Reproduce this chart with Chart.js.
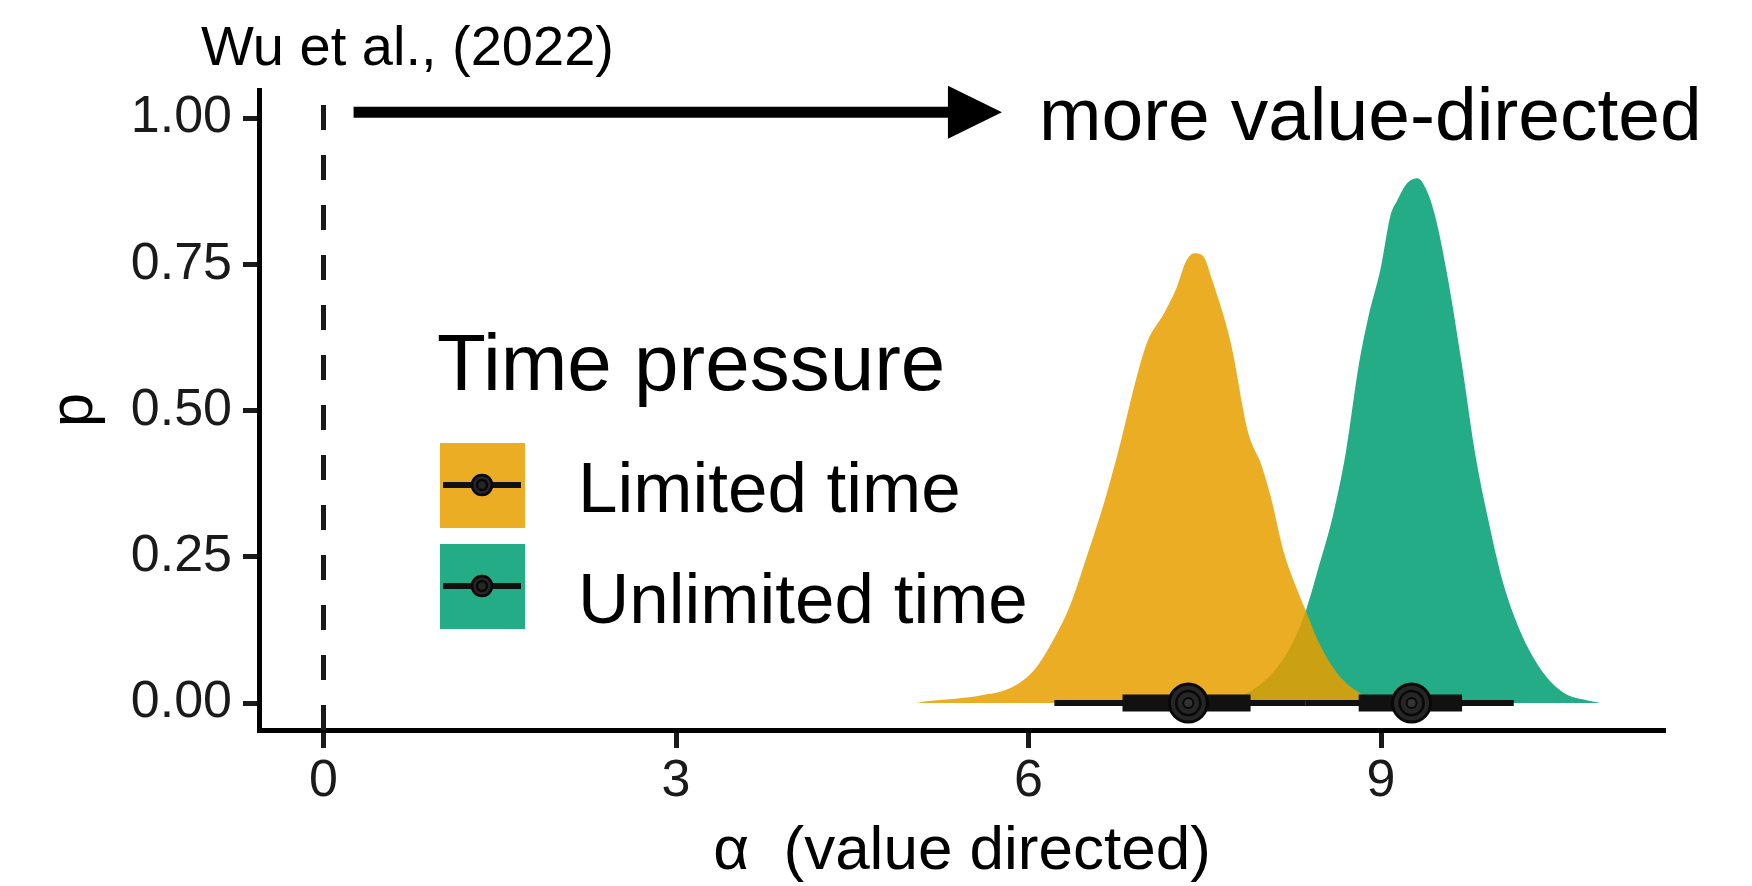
<!DOCTYPE html>
<html>
<head>
<meta charset="utf-8">
<script src="https://cdn.jsdelivr.net/npm/chart.js@4/dist/chart.umd.min.js"></script>
<style>
  html, body { margin: 0; padding: 0; background: #fff; }
  #wrap { width: 1752px; height: 886px; }
</style>
</head>
<body>
<div id="wrap"><canvas id="chart" width="1752" height="886"></canvas></div>
<script>
// posterior densities of alpha
const limitedX = [5.05, 5.13, 5.40, 5.59, 5.86, 6.05, 6.20, 6.35, 6.50, 6.65, 6.77, 6.92, 7.01, 7.15, 7.26, 7.34, 7.41, 7.49, 7.56, 7.72, 7.87, 7.98, 8.06, 8.17, 8.29, 8.36, 8.47, 8.63, 8.82, 9.00, 9.20];
const limitedY = [0, 0.003, 0.008, 0.013, 0.027, 0.057, 0.104, 0.165, 0.253, 0.347, 0.435, 0.557, 0.617, 0.665, 0.710, 0.755, 0.769, 0.763, 0.725, 0.617, 0.462, 0.408, 0.354, 0.260, 0.192, 0.158, 0.104, 0.050, 0.017, 0.003, 0];
const unlimitedX = [7.60, 7.72, 7.91, 8.10, 8.25, 8.36, 8.47, 8.59, 8.70, 8.81, 8.89, 9.00, 9.08, 9.14, 9.22, 9.31, 9.38, 9.46, 9.57, 9.69, 9.80, 9.92, 10.03, 10.14, 10.26, 10.41, 10.56, 10.75, 10.87];
const unlimitedY = [0, 0.006, 0.023, 0.057, 0.104, 0.158, 0.233, 0.320, 0.428, 0.577, 0.658, 0.746, 0.833, 0.860, 0.888, 0.897, 0.880, 0.833, 0.725, 0.577, 0.428, 0.307, 0.212, 0.145, 0.091, 0.044, 0.017, 0.005, 0];

// point estimate + intervals (thin = 95%, thick = 66%)
const seriesNames = ['Limited time', 'Unlimited time'];
const pointEstimates = [7.36, 9.26];
const thinLow = [6.22, 8.36];
const thinHigh = [8.36, 10.13];
const thickLow = [6.80, 8.81];
const thickHigh = [7.89, 9.69];

const xTicks = [0, 3, 6, 9];
const yTicks = [0, 0.25, 0.5, 0.75, 1.0];
const xRange = [-0.549, 11.417];
const yRange = [-0.046, 1.048];
const refLineX = 0;
const arrowFromX = 0.256;
const arrowToX = 5.774;
const arrowY = 1.01;

const FONT = '"Liberation Sans", Arial, Helvetica, sans-serif';
const fills = ['rgba(230,159,0,0.86)', 'rgba(0,158,115,0.86)'];
const ink = '#111';

Chart.defaults.font.family = FONT;

function pts(xs, ys) { return xs.map((v, i) => ({ x: v, y: ys[i] })); }
function seg(a, b) { return [{ x: a, y: 0 }, { x: b, y: 0 }]; }

const datasets = [
  { data: pts(unlimitedX, unlimitedY), backgroundColor: fills[1], order: 20 },
  { data: pts(limitedX, limitedY), backgroundColor: fills[0], order: 19 },
].map(d => Object.assign(d, {
  fill: 'origin', borderColor: 'transparent', borderWidth: 0,
  pointRadius: 0, cubicInterpolationMode: 'monotone',
}));

datasets.push({
  data: [{ x: refLineX, y: yRange[0] }, { x: refLineX, y: yRange[1] }],
  borderColor: '#1a1a1a', borderWidth: 5, borderDash: [25, 25],
  pointRadius: 0, fill: false, order: 15,
});

seriesNames.forEach((name, i) => {
  datasets.push({
    data: seg(thinLow[i], thinHigh[i]), borderColor: ink, borderWidth: 6,
    borderCapStyle: 'butt', pointRadius: 0, fill: false, order: 12,
  });
  datasets.push({
    data: seg(thickLow[i], thickHigh[i]), borderColor: ink, borderWidth: 17,
    borderCapStyle: 'butt', pointRadius: 0, fill: false, order: 11,
  });
});

// concentric rings of the point estimate
[[19, '#262626', 3, 10], [12, 'rgba(0,0,0,0)', 2.5, 9], [5, '#333', 2, 8]].forEach(([r, bg, bw, ord]) => {
  datasets.push({
    type: 'scatter',
    data: pointEstimates.map(v => ({ x: v, y: 0 })),
    pointRadius: r, pointBackgroundColor: bg, pointBorderColor: '#080808',
    pointBorderWidth: bw, order: ord,
  });
});

function keyGlyph(ctx, cx, cy) {
  ctx.strokeStyle = ink;
  ctx.lineWidth = 6;
  ctx.beginPath(); ctx.moveTo(cx - 39, cy); ctx.lineTo(cx + 39, cy); ctx.stroke();
  ctx.fillStyle = '#262626';
  ctx.beginPath(); ctx.arc(cx, cy, 11, 0, Math.PI * 2); ctx.fill();
  ctx.lineWidth = 2.5; ctx.strokeStyle = '#080808';
  ctx.beginPath(); ctx.arc(cx, cy, 10, 0, Math.PI * 2); ctx.stroke();
  ctx.beginPath(); ctx.arc(cx, cy, 5, 0, Math.PI * 2); ctx.stroke();
}

const annotations = {
  id: 'annotations',
  afterDatasetsDraw(chart) {
    const { ctx, scales: { x, y } } = chart;
    ctx.save();
    ctx.fillStyle = '#000';
    ctx.textBaseline = 'alphabetic';
    ctx.textAlign = 'left';

    // citation
    ctx.font = '56px ' + FONT;
    ctx.fillText('Wu et al., (2022)', 201, 65);

    // arrow
    const ax0 = x.getPixelForValue(arrowFromX);
    const ax1 = x.getPixelForValue(arrowToX);
    const ay = y.getPixelForValue(arrowY);
    const headLen = 54, headHalf = 26.5;
    ctx.fillRect(ax0, ay - 5.5, ax1 - headLen - ax0 + 1, 11);
    ctx.beginPath();
    ctx.moveTo(ax1, ay);
    ctx.lineTo(ax1 - headLen, ay - headHalf);
    ctx.lineTo(ax1 - headLen, ay + headHalf);
    ctx.closePath();
    ctx.fill();
    ctx.font = '75px ' + FONT;
    ctx.fillText('more value-directed', ax1 + 37, 140);

    // legend
    ctx.font = '80px ' + FONT;
    ctx.fillText('Time pressure', 437, 390);
    const keyTops = [443, 544];
    const labelBase = [512, 623];
    seriesNames.forEach((name, i) => {
      ctx.fillStyle = fills[i];
      ctx.fillRect(440, keyTops[i], 85, 85);
      keyGlyph(ctx, 482, keyTops[i] + 42);
      ctx.fillStyle = '#000';
      ctx.font = '71px ' + FONT;
      ctx.fillText(name, 578, labelBase[i]);
    });
    ctx.restore();
  }
};

new Chart(document.getElementById('chart'), {
  type: 'line',
  data: { datasets },
  plugins: [annotations],
  options: {
    responsive: false,
    animation: false,
    devicePixelRatio: 1,
    events: [],
    layout: { padding: { top: 90, right: 87, left: 0, bottom: 0 } },
    plugins: { legend: { display: false }, tooltip: { enabled: false }, title: { display: false } },
    scales: {
      x: {
        type: 'linear',
        min: xRange[0], max: xRange[1],
        afterBuildTicks: s => { s.ticks = xTicks.map(v => ({ value: v })); },
        afterFit: s => { s.height = 156; },
        grid: { drawOnChartArea: false, drawTicks: true, tickLength: 18, tickWidth: 5, tickColor: '#1a1a1a' },
        border: { display: true, color: '#000', width: 5 },
        ticks: { color: '#1a1a1a', font: { size: 52 }, padding: 2, maxRotation: 0, autoSkip: false },
        title: { display: true, text: 'α  (value directed)', color: '#000', font: { size: 62 }, padding: { top: 0, bottom: -3 } },
      },
      y: {
        type: 'linear',
        min: yRange[0], max: yRange[1],
        afterBuildTicks: s => { s.ticks = yTicks.map(v => ({ value: v })); },
        afterFit: s => { s.width = 259; },
        grid: { drawOnChartArea: false, drawTicks: true, tickLength: 16, tickWidth: 5, tickColor: '#1a1a1a' },
        border: { display: true, color: '#000', width: 5 },
        ticks: { color: '#1a1a1a', font: { size: 52 }, padding: 11, autoSkip: false, callback: v => v.toFixed(2) },
        title: { display: true, text: 'p', color: '#000', font: { size: 62 }, padding: { top: 38, bottom: 0 } },
      },
    },
  },
});
</script>
</body>
</html>
